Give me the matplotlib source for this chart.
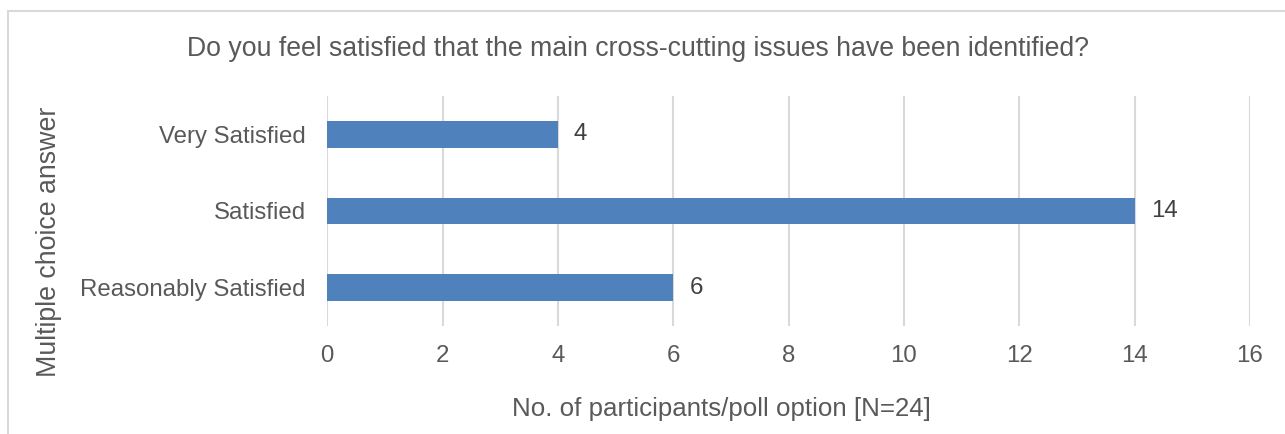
import matplotlib
matplotlib.use('Agg')
import matplotlib.pyplot as plt
from matplotlib.patches import Rectangle

plt.rcParams['font.family'] = ['Liberation Sans', 'DejaVu Sans']

categories = ['Reasonably Satisfied', 'Satisfied', 'Very Satisfied']
counts = [6, 14, 4]
x_ticks = [0, 2, 4, 6, 8, 10, 12, 14, 16]

title = 'Do you feel satisfied that the main cross-cutting issues have been identified?'
xlabel = 'No. of participants/poll option [N=24]'
ylabel = 'Multiple choice answer'

W, H = 1285, 434
fig = plt.figure(figsize=(W / 100, H / 100), dpi=100)
ax = fig.add_axes([327.3 / W, 1 - 326 / H, (1250 - 327.3) / W, (326 - 96) / H])

# outer frame of the chart area
fig.patches.append(Rectangle((8 / W, -0.1), 1.2, 1 - 11 / H + 0.1, transform=fig.transFigure,
                             fill=False, edgecolor='#d9d9d9', linewidth=1.5))

bars = ax.barh(range(len(categories)), counts, height=0.35, color='#4f81bd', zorder=3)
for i, v in enumerate(counts):
    ax.annotate(str(v), (v, i), xytext=(16, 0), textcoords='offset pixels',
                va='center', ha='left', fontsize=17.3, color='#404040')

ax.set_xlim(0, 16)
ax.set_ylim(-0.5, 2.5)
ax.set_xticks(x_ticks)
ax.set_yticks(range(len(categories)))
ax.set_yticklabels(categories)
ax.grid(axis='x', color='#d9d9d9', linewidth=1.5, zorder=0)
ax.tick_params(axis='both', length=0, labelsize=17.3, labelcolor='#595959')
ax.tick_params(axis='x', pad=14)
ax.tick_params(axis='y', pad=15.5)
for s in ax.spines.values():
    s.set_visible(False)

fig.text(638 / W, 1 - 49 / H, title, ha='center', va='center', fontsize=19.2, color='#595959')
fig.text(721 / W, 1 - 409 / H, xlabel, ha='center', va='center', fontsize=18.6, color='#595959')
fig.text(49 / W, 1 - 242 / H, ylabel, ha='center', va='center', rotation=90,
         fontsize=19.3, color='#595959')

fig.savefig('out.png', dpi=100, facecolor='white')
